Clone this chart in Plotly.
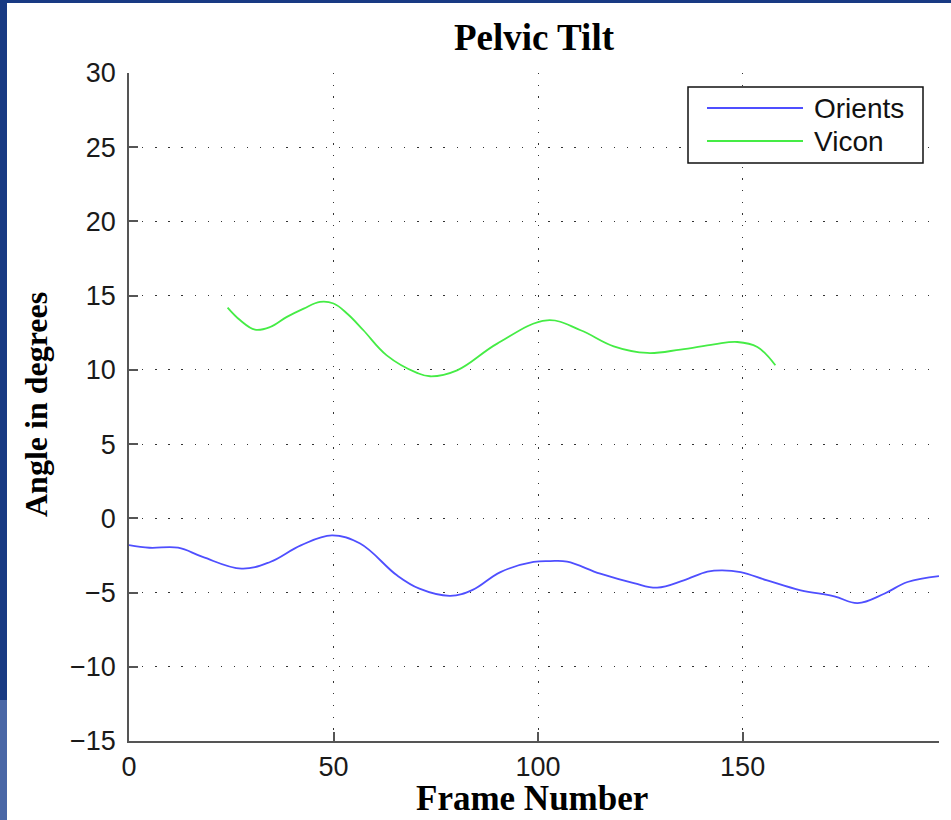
import plotly.graph_objects as go

# ---- data ----
orients_frames = [0, 5, 12, 18, 27.5, 34.5, 42, 49.6, 56.5, 65.5, 71, 78.5, 84, 90.8, 98.9,
                  103, 107.1, 115.2, 123.4, 129.1, 135.6, 141.4, 145, 149.5, 156, 164.2,
                  172.4, 178.1, 184.6, 190.3, 198]
orients_values = [-1.80, -1.98, -1.98, -2.60, -3.39, -2.94, -1.82, -1.15, -1.70, -3.84, -4.74,
                  -5.22, -4.82, -3.62, -2.94, -2.88, -2.92, -3.73, -4.36, -4.67, -4.18, -3.59,
                  -3.50, -3.62, -4.18, -4.85, -5.25, -5.71, -5.08, -4.29, -3.89]

vicon_frames = [24.1, 27.2, 30.8, 34.5, 38.6, 42.7, 46.7, 50.0, 53.5, 57.3, 63.0, 70.4, 73.6,
                80.2, 90.0, 102.2, 110.4, 118.5, 126.7, 134.8, 143.0, 148.7, 153.6, 158.0]
vicon_values = [14.20, 13.34, 12.71, 12.89, 13.57, 14.13, 14.58, 14.47, 13.75, 12.67, 10.98,
                9.80, 9.57, 9.97, 11.77, 13.34, 12.67, 11.59, 11.14, 11.37, 11.72, 11.88,
                11.54, 10.31]

series_names = ["Orients", "Vicon"]
series_colors = ["#4f4fff", "#45ec45"]

x_ticks = [0, 50, 100, 150]
y_ticks = [-15, -10, -5, 0, 5, 10, 15, 20, 25, 30]

title_text = "Pelvic Tilt"
x_title = "Frame Number"
y_title = "Angle in degrees"

# ---- geometry ----
W, H = 951, 820
L, R, T, B = 129, 12, 73, 79
PW, PH = W - L - R, H - T - B


def px(x):
    return (x - L) / PW


def py(y):
    return (H - B - y) / PH


fig = go.Figure()
for fr, vals, name, col in [(orients_frames, orients_values, series_names[0], series_colors[0]),
                            (vicon_frames, vicon_values, series_names[1], series_colors[1])]:
    fig.add_trace(go.Scatter(x=fr, y=vals, mode="lines", name=name,
                             line=dict(color=col, width=1.8, shape="spline", smoothing=1.1),
                             showlegend=False))

tick_font = dict(family="Liberation Sans, Arial, sans-serif", size=27, color="#1a1a1a")
serif_bold = "Liberation Serif, Times New Roman, serif"

fig.update_xaxes(range=[0, 198], tickvals=x_ticks, ticks="inside", ticklen=9, tickwidth=1.5,
                 tickcolor="#555", showline=True, linecolor="#555", linewidth=1.5,
                 showgrid=True, gridcolor="#333", gridwidth=1.3, griddash="1.3px,10.4px",
                 zeroline=False, tickfont=tick_font, ticklabelstandoff=1)
fig.update_yaxes(range=[-15, 30], tickvals=y_ticks, ticks="inside", ticklen=9, tickwidth=1.5,
                 tickcolor="#555", showline=True, linecolor="#555", linewidth=1.5,
                 showgrid=True, gridcolor="#333", gridwidth=1.3, griddash="1.3px,11.8px",
                 zeroline=False, tickfont=tick_font, ticklabelstandoff=6)

shapes = [
    # slide frame (left and top blue bands)
    dict(type="rect", xref="paper", yref="paper", x0=px(0), x1=px(7), y0=py(0), y1=py(700),
         fillcolor="#183a83", line_width=0, layer="above"),
    dict(type="rect", xref="paper", yref="paper", x0=px(0), x1=px(7), y0=py(700), y1=py(820),
         fillcolor="#4a67a6", line_width=0, layer="above"),
    dict(type="rect", xref="paper", yref="paper", x0=px(0), x1=px(951), y0=py(0), y1=py(3),
         fillcolor="#183a83", line_width=0, layer="above"),
    # legend box
    dict(type="rect", xref="paper", yref="paper", x0=px(688), x1=px(923), y0=py(87), y1=py(163),
         fillcolor="white", line=dict(color="#111", width=1.5), layer="above"),
]
annotations = [
    dict(text=title_text, x=0.5, y=py(38), xref="paper", yref="paper", showarrow=False,
         font=dict(family=serif_bold, size=37, color="black", weight="bold"),
         xanchor="center", yanchor="middle"),
    dict(text=x_title, x=px(532), y=py(798), xref="paper", yref="paper", showarrow=False,
         font=dict(family=serif_bold, size=35, color="black", weight="bold"),
         xanchor="center", yanchor="middle"),
    dict(text=y_title, x=px(36), y=py(405), xref="paper", yref="paper", showarrow=False,
         textangle=-90, font=dict(family=serif_bold, size=32, color="black", weight="bold"),
         xanchor="center", yanchor="middle"),
]
for i, (name, col) in enumerate(zip(series_names, series_colors)):
    yy = 108 + 33 * i
    shapes.append(dict(type="line", xref="paper", yref="paper", x0=px(707), x1=px(803),
                       y0=py(yy), y1=py(yy), line=dict(color=col, width=2), layer="above"))
    annotations.append(dict(text=name, x=px(812), y=py(yy), xref="paper", yref="paper",
                            showarrow=False, xanchor="left", yanchor="middle",
                            font=dict(family="Liberation Sans, Arial, sans-serif", size=28,
                                      color="#111")))

fig.update_layout(width=W, height=H, margin=dict(l=L, r=R, t=T, b=B),
                  paper_bgcolor="white", plot_bgcolor="white",
                  shapes=shapes, annotations=annotations, showlegend=False)

fig.write_html("out.html", config={"displayModeBar": False},
               post_script="document.body.style.margin='0';document.body.style.overflow='hidden';")
